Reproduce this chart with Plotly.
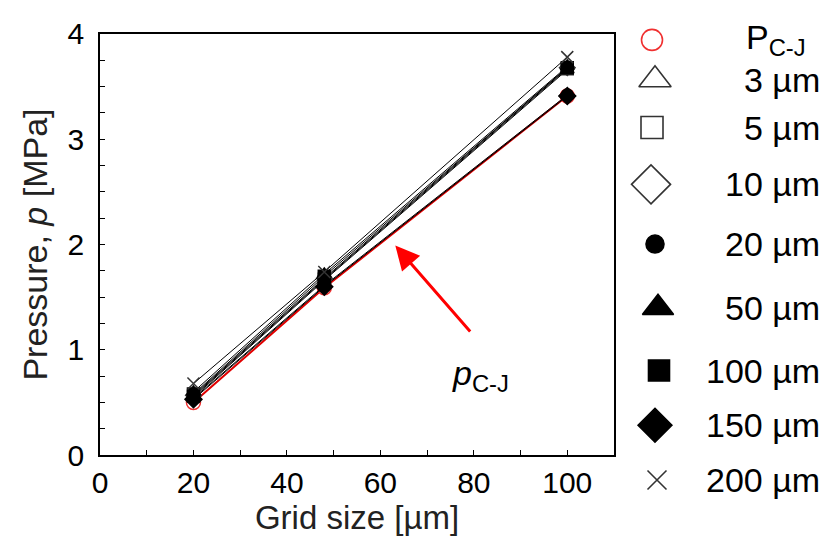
import plotly.graph_objects as go

# Grid size [µm] and computed pressure [MPa] for each cell size
grid_size = [20, 48, 100]
p_cj = [0.50, 1.59, 3.41]
p_3um = [0.55, 1.66, 3.66]
p_5um = [0.56, 1.67, 3.67]
p_10um = [0.57, 1.68, 3.68]
p_20um = [0.54, 1.61, 3.42]
p_50um = [0.60, 1.72, 3.69]
p_100um = [0.58, 1.70, 3.68]
p_150um = [0.53, 1.60, 3.41]
p_200um = [0.68, 1.74, 3.78]

series_names = ["P<sub>C-J</sub>", "3 µm", "5 µm", "10 µm", "20 µm",
                "50 µm", "100 µm", "150 µm", "200 µm"]
series_values = [p_cj, p_3um, p_5um, p_10um, p_20um,
                 p_50um, p_100um, p_150um, p_200um]

# marker symbol, marker colour, plot marker size, key marker size, line colour, line width
styles = [
    ("circle-open", "#f03030", 14, 21, "#e00000", 2.0),
    ("triangle-up-open", "#333333", 12, 28, "black", 1.0),
    ("square-open", "#333333", 12, 22, "black", 1.0),
    ("diamond-open", "#333333", 12, 30, "black", 1.0),
    ("circle", "black", 12, 18, "black", 1.0),
    ("triangle-up", "black", 12, 27, "black", 1.0),
    ("square", "black", 12, 21, "black", 1.0),
    ("diamond", "black", 13, 26, "black", 1.0),
    ("x-thin-open", "#333333", 12, 19, "black", 1.0),
]

# placement of the key rows: marker centre column, text right edge, row centre (pixels)
key_marker_x = [652, 655, 652, 651, 655, 658, 659, 655, 657]
key_text_right = [808, 822, 822, 822, 822, 822, 822, 822, 822]
key_rows = [38, 78, 126, 183, 243, 307, 370, 425, 480]

FONT = "Liberation Sans, Arial, sans-serif"
W, H = 828, 543
ML, MR, MT, MB = 100, 6, 20, 50
plot_w = W - ML - MR
plot_h = H - MT - MB
x_right_px, y_top_px, y_bot_px = 614, 32, 455
key_left_px = 630

fig = go.Figure()
for name, ys, st in zip(series_names, series_values, styles):
    sym, mcol, msize, _, lcol, lw = st
    fig.add_trace(go.Scatter(
        x=grid_size, y=ys, name=name, mode="lines+markers", showlegend=False,
        line=dict(color=lcol, width=lw),
        marker=dict(symbol=sym, size=msize, color=mcol,
                    line=dict(color=mcol, width=1.5)),
    ))

# key panel: one marker per series, drawn on its own hidden axes
for name, st, mx, tx, row in zip(series_names, styles, key_marker_x,
                                  key_text_right, key_rows):
    sym, mcol, _, ksize, _, _ = st
    fig.add_trace(go.Scatter(
        x=[mx], y=[row], xaxis="x2", yaxis="y2", mode="markers",
        showlegend=False, hoverinfo="skip", cliponaxis=False,
        marker=dict(symbol=sym, size=ksize, color=mcol,
                    line=dict(color=mcol, width=1.6)),
    ))
    fig.add_annotation(
        x=tx, y=row, xref="x2", yref="y2", xanchor="right", yanchor="middle",
        text=name, showarrow=False,
        font=dict(size=34, color="black", family=FONT),
    )

fig.add_annotation(
    x=63.2, y=1.99, ax=79.5, ay=1.16, xref="x", yref="y", axref="x", ayref="y",
    text="", showarrow=True, arrowhead=2, arrowsize=1.6, arrowwidth=3,
    arrowcolor="#ff0000",
)
fig.add_annotation(
    x=81.5, y=0.76, xref="x", yref="y", showarrow=False,
    text="<i>p</i><sub>C-J</sub>", font=dict(size=34, color="black", family=FONT),
)

axis_common = dict(
    showline=True, linecolor="black", linewidth=1.5, mirror=True,
    ticks="inside", ticklen=5, tickcolor="black", tickwidth=1,
    showgrid=False, zeroline=False,
    tickfont=dict(size=30, color="black", family=FONT),
)

fig.update_layout(
    xaxis=dict(
        domain=[0, (x_right_px - ML) / plot_w],
        range=[0, 110], dtick=20, tick0=0,
        minor=dict(dtick=10, ticks="inside", ticklen=5, tickcolor="black"),
        title=dict(text="Grid size [µm]",
                   font=dict(size=33, color="#222", family=FONT), standoff=4),
        **axis_common,
    ),
    yaxis=dict(
        domain=[(H - MB - y_bot_px) / plot_h, (H - MB - y_top_px) / plot_h],
        range=[0, 4], dtick=1, tick0=0,
        minor=dict(dtick=0.25, ticks="inside", ticklen=5, tickcolor="black"),
        title=dict(text="Pressure, <i>p</i> [MPa]",
                   font=dict(size=34, color="#222", family=FONT), standoff=10),
        ticklabelstandoff=8,
        **axis_common,
    ),
    xaxis2=dict(domain=[(key_left_px - ML) / plot_w, 1],
                range=[key_left_px, W - MR], visible=False, fixedrange=True),
    yaxis2=dict(domain=[0, 1], anchor="x2",
                range=[H - MB, MT], visible=False, fixedrange=True),
    width=W, height=H,
    margin=dict(l=ML, r=MR, t=MT, b=MB),
    paper_bgcolor="white", plot_bgcolor="white",
    font=dict(family=FONT, color="black"),
    showlegend=False,
)

fig.write_html("out.html")
